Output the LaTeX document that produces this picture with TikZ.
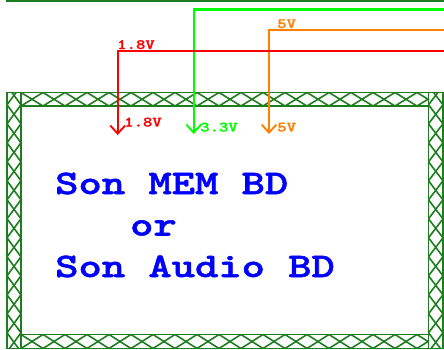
\documentclass[tikz,border=0pt]{standalone}
\usepackage{fontspec}
\newfontfamily\courbig{lmmonolt10-bold.otf}[FakeStretch=1.29,FakeBold=1.6]
\newfontfamily\coursmall{lmmonolt10-bold.otf}[FakeStretch=1.25,FakeBold=1.6]
\usetikzlibrary{arrows.meta}
\definecolor{hatchgreen}{RGB}{30,125,30}
\definecolor{wred}{RGB}{255,0,0}
\definecolor{wgreen}{RGB}{0,255,0}
\definecolor{worange}{RGB}{255,128,0}
\definecolor{tblue}{RGB}{0,0,255}
\tikzset{
  hatchline/.style={draw=hatchgreen, line width=1.2pt},
  wire/.style={line width=1.6pt},
  tip/.style={-{Straight Barb[length=6pt,width=11pt,line width=1.4pt]}},
  small/.style={inner sep=0pt, anchor=base west, font=\coursmall\fontsize{10.7pt}{12pt}\selectfont},
  big/.style={inner sep=0pt, anchor=base west, text=tblue,
    font=\courbig\fontsize{25.8pt}{30pt}\selectfont}
}
% horizontal strip: x1 y1 x2 y2, period 22
\newcommand{\hstrip}[4]{%
  \begin{scope}
    \clip (#1,#2) rectangle (#3,#4);
    \foreach \k [evaluate=\k as \i using #1+22*\k] in {0,...,22} {
      \draw[hatchline] (\i,#2) -- (\i+22,#4);
      \draw[hatchline] (\i+22,#2) -- (\i,#4);
    }
  \end{scope}
  \draw[hatchline] (#1,#2) rectangle (#3,#4);
}
% vertical strip: x1 y1 x2 y2 start, period 19
\newcommand{\vstrip}[5]{%
  \begin{scope}
    \clip (#1,#2) rectangle (#3,#4);
    \foreach \k [evaluate=\k as \j using #5+19*\k] in {0,...,15} {
      \draw[hatchline] (#1,\j) -- (#3,\j+19);
      \draw[hatchline] (#1,\j+19) -- (#3,\j);
    }
  \end{scope}
  \draw[hatchline] (#1,#2) rectangle (#3,#4);
}
\begin{document}
\begin{tikzpicture}[x=0.75pt,y=-0.75pt]
\useasboundingbox (0,0) rectangle (444,350);
\begin{scope}
\clip (0,0) rectangle (444,350);
% top partial strip
\hstrip{7}{-14}{450}{0.8}
% frame
\vstrip{7}{92.5}{21}{348.5}{85.8}
\vstrip{428.5}{92.5}{443}{348.5}{85.8}
\hstrip{21}{92.5}{428.5}{106}
\hstrip{21}{334.5}{428.5}{348.5}
\end{scope}
% wire coordinates
\coordinate (rEnd) at (444,50.7);
\coordinate (rCorner) at (117.7,50.7);
\coordinate (rTip) at (117.7,135);
\coordinate (gEnd) at (444,9.5);
\coordinate (gCorner) at (193.7,9.5);
\coordinate (gTip) at (193.7,134);
\coordinate (oEnd) at (444,30.3);
\coordinate (oCorner) at (269,30.3);
\coordinate (oTip) at (269,134);
\draw[wire,wgreen,tip] (gEnd) -- (gCorner) -- (gTip);
\draw[wire,worange,tip] (oEnd) -- (oCorner) -- (oTip);
\draw[wire,wred,tip] (rEnd) -- (rCorner) -- (rTip);
% labels
\node[small,text=wred] (l18a) at (117,49) {1.8V};
\node[small,text=worange] (l5a) at (277,28) {5V};
\node[small,text=wred] (l18b) at (124,126.5) {1.8V};
\node[small,text=wgreen] (l33) at (200,131.5) {3.3V};
\node[small,text=worange] (l5b) at (277,131.5) {5V};
% main text
\node[big] (line1) at (55,194) {Son MEM BD};
\node[big] (line2) at (60,235.5) {\hphantom{Son}or};
\node[big] (line3) at (55,277) {Son Audio BD};
\end{tikzpicture}
\end{document}
